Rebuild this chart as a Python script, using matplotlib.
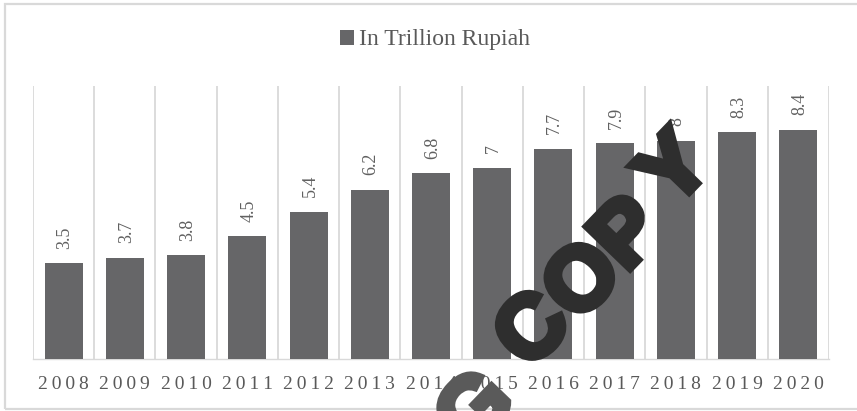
import matplotlib
matplotlib.use("Agg")
import matplotlib.pyplot as plt
import matplotlib.patheffects as pe
from matplotlib.patches import Patch, Rectangle

years = ["2008", "2009", "2010", "2011", "2012", "2013", "2014",
         "2015", "2016", "2017", "2018", "2019", "2020"]
values = [3.5, 3.7, 3.8, 4.5, 5.4, 6.2, 6.8, 7, 7.7, 7.9, 8, 8.3, 8.4]
value_labels = ["3.5", "3.7", "3.8", "4.5", "5.4", "6.2", "6.8",
                "7", "7.7", "7.9", "8", "8.3", "8.4"]
series_name = "In Trillion Rupiah"

W, H = 857, 411
fig = plt.figure(figsize=(W / 100, H / 100), dpi=100)
fig.patch.set_facecolor("white")

serif = ["Liberation Serif", "DejaVu Serif"]
sans = ["Liberation Sans", "DejaVu Sans"]
text_grey = "#595959"
bar_grey = "#666668"
line_grey = "#d9d9d9"

# chart-area frame
fig.add_artist(Rectangle((5 / W, 1 - 409 / H), (W + 20) / W, (409 - 4) / H,
                         transform=fig.transFigure, fill=False,
                         edgecolor=line_grey, linewidth=1.6))

ax = fig.add_axes([33 / W, 1 - 359 / H, (829 - 33) / W, (359 - 86) / H])
x = list(range(len(years)))
ax.bar(x, values, width=0.62, color=bar_grey, zorder=3)
ax.set_xlim(-0.5, len(years) - 0.5)
ax.set_ylim(0, 10)

# vertical separators between categories
ax.set_xticks([i + 0.5 for i in range(-1, len(years))], minor=True)
ax.grid(True, which="minor", axis="x", color=line_grey, linewidth=1.3, zorder=0)
ax.set_yticks([])
for s in ("top", "left", "right"):
    ax.spines[s].set_visible(False)
ax.spines["bottom"].set_color(line_grey)
ax.spines["bottom"].set_linewidth(1.0)

ax.set_xticks(x)
ax.set_xticklabels(["\u2009".join(y) for y in years], family=serif,
                   fontsize=14, color=text_grey)
ax.tick_params(axis="x", which="both", length=0, pad=12)

for xi, v, lab in zip(x, values, value_labels):
    ax.annotate(lab, (xi, v), xytext=(1, 10.5), textcoords="offset points",
                rotation=90, ha="center", va="bottom", family=serif,
                fontsize=13, color="#606060")

leg = fig.legend(handles=[Patch(facecolor=bar_grey, label=series_name)],
                 loc="center", bbox_to_anchor=(435 / W, 1 - 40 / H),
                 frameon=False, handlelength=0.6, handleheight=0.6,
                 handletextpad=0.2, borderpad=0,
                 prop={"family": serif, "size": 17})
for t in leg.get_texts():
    t.set_color(text_grey)

# diagonal stamp across the chart, one heavy letter at a time
stamp_letters = ["G", "C", "O", "P", "Y"]
stamp_centres = [(478, 413), (535, 332), (585, 283), (630, 236), (677, 172)]
stamp_colours = ["#5a5a5a", "#2e2e2e", "#2e2e2e", "#2e2e2e", "#2e2e2e"]
for ch, (px, py), col in zip(stamp_letters, stamp_centres, stamp_colours):
    fig.text(px / W, 1 - py / H, ch, rotation=46, ha="center", va="center",
             family=sans, fontweight="bold", fontsize=64, color=col,
             zorder=10,
             path_effects=[pe.withStroke(linewidth=5, foreground=col,
                                         joinstyle="miter")])

fig.savefig("out.png", dpi=100, facecolor="white")
